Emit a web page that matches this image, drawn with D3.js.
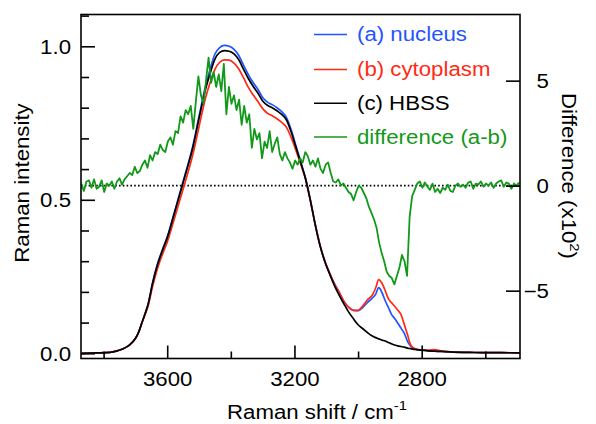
<!DOCTYPE html>
<html><head><meta charset="utf-8">
<script src="https://cdn.jsdelivr.net/npm/d3@7"></script>
<style>
body{margin:0;background:#fff}
svg{display:block}
text{font-family:"Liberation Sans",Arial,Helvetica,sans-serif}
</style>
</head><body>
<svg id="chart" width="596" height="424"></svg>
<script>
// ---------- data ----------
const shift = [3870,3820,3780,3760,3740,3720,3700,3690,3680,3670,3660,3645,3630,3615,3600,3580,3560,3540,3520,3500,
  3480,3465,3450,3435,3420,3405,3390,3375,3360,3345,3330,3315,3300,3285,3270,3255,3240,3225,3210,3195,
  3180,3165,3150,3135,3120,3105,3090,3075,3060,3045,3030,3015,3000,2985,2970,2955,2945,2935,2925,2915,
  2905,2895,2885,2875,2865,2855,2845,2835,2825,2815,2800,2780,2760,2740,2700,2650,2600,2550,2490];

const nucleus = [0.000,0.001,0.003,0.007,0.014,0.026,0.048,0.068,0.098,0.128,0.160,0.235,0.293,0.338,0.379,0.450,0.523,0.596,0.673,0.772,
  0.868,0.926,0.975,0.996,1.003,1.000,0.990,0.970,0.938,0.908,0.882,0.860,0.833,0.818,0.810,0.800,0.787,0.768,0.727,0.675,
  0.623,0.570,0.500,0.422,0.354,0.302,0.262,0.228,0.200,0.170,0.150,0.140,0.139,0.150,0.166,0.180,0.192,0.214,0.198,0.172,
  0.150,0.127,0.113,0.098,0.082,0.066,0.040,0.024,0.015,0.012,0.010,0.008,0.007,0.006,0.004,0.003,0.002,0.002,0.001];

const cytoplasm = [0.000,0.001,0.003,0.007,0.014,0.026,0.048,0.068,0.098,0.124,0.154,0.222,0.278,0.322,0.362,0.430,0.500,0.570,0.645,0.738,
  0.830,0.882,0.925,0.948,0.956,0.955,0.945,0.926,0.897,0.866,0.842,0.820,0.797,0.782,0.774,0.764,0.752,0.736,0.702,0.660,
  0.615,0.566,0.497,0.421,0.354,0.302,0.262,0.228,0.200,0.170,0.150,0.140,0.140,0.155,0.175,0.190,0.212,0.240,0.228,0.205,
  0.178,0.165,0.153,0.140,0.126,0.095,0.062,0.028,0.017,0.013,0.011,0.010,0.012,0.008,0.004,0.003,0.002,0.002,0.001];

const hbss = [0.000,0.001,0.003,0.007,0.014,0.026,0.048,0.068,0.098,0.128,0.160,0.232,0.290,0.335,0.376,0.447,0.520,0.592,0.668,0.765,
  0.858,0.912,0.958,0.980,0.986,0.984,0.975,0.956,0.925,0.895,0.870,0.848,0.822,0.808,0.800,0.790,0.778,0.760,0.720,0.670,
  0.620,0.568,0.498,0.420,0.352,0.300,0.260,0.222,0.190,0.162,0.135,0.113,0.093,0.080,0.067,0.056,0.051,0.047,0.043,0.040,
  0.035,0.031,0.027,0.024,0.022,0.020,0.017,0.015,0.013,0.012,0.010,0.008,0.007,0.006,0.004,0.003,0.002,0.002,0.001];

// difference (a-b) x10^2, sampled every 8 cm-1 from 3870 cm-1 down
const diffStart = 3870, diffStep = 8;
const difference = [
  0.10,-0.25,0.20,0.25,-0.10,0.30,-0.15,-0.05,0.25,-0.30,
  0.10,0.00,0.20,-0.15,0.20,0.35,0.05,0.30,0.45,0.60,
  0.50,0.90,0.60,0.70,1.00,1.20,0.85,1.45,1.20,1.60,
  1.50,1.95,1.70,1.60,2.10,2.30,1.95,2.60,2.50,3.30,
  3.00,3.60,3.40,3.80,2.70,4.00,5.20,4.30,3.90,5.00,
  6.10,4.90,5.40,4.70,5.30,4.50,5.80,3.40,4.70,3.90,
  4.30,3.60,4.10,2.90,3.80,3.00,3.40,1.80,2.70,2.20,
  2.50,1.30,2.10,1.80,2.60,1.60,2.00,2.30,1.50,1.20,
  1.60,1.30,1.10,0.80,1.20,1.00,1.30,1.10,1.60,1.40,
  1.00,1.20,0.90,1.30,0.80,0.60,1.00,1.10,0.60,0.20,
  0.15,0.30,0.00,0.10,-0.10,-0.30,-0.40,-0.70,-0.30,0.00,
  -0.10,-0.35,-0.60,-1.00,-1.30,-1.60,-2.00,-2.70,-3.20,-3.60,
  -4.10,-4.30,-4.40,-4.70,-4.30,-3.90,-3.30,-3.60,-4.30,-1.50,
  -0.50,-0.20,0.10,0.20,-0.10,0.15,-0.05,-0.20,0.10,-0.30,
  -0.15,-0.35,-0.10,-0.20,0.05,-0.25,-0.30,0.00,0.10,-0.05,
  0.05,-0.10,0.15,0.20,-0.15,0.10,0.05,0.20,-0.05,0.10,
  0.00,0.15,-0.10,0.10,0.20,0.25,-0.05,0.15,0.10,-0.15,
  0.10,0.00,0.15];

const xMajorTicks = [3600,3200,2800];
const xMinorTicks = [3800,3400,3000,2600];
const yMajorTicks = [0.0,0.5,1.0];
const yMinorTicks = [0.1,0.2,0.3,0.4,0.6,0.7,0.8,0.9,1.1];
const y2Ticks = [-5,0,5];
const legendLabels = ["(a) nucleus","(b) cytoplasm","(c) HBSS","difference (a-b)"];
const seriesColors = ["#1f55ff","#ff2a14","#000000","#13991a"];

// ---------- layout ----------
const L = 81, R = 520, T = 14.5, B = 358.5;
const FS = 19.5, STRETCH = 1.14;

const svg = d3.select("#chart");
const x = d3.scaleLinear().domain([3871, 2491]).range([L, R]);
const yL = d3.scaleLinear().domain([-0.017, 1.1036]).range([B, T]);
const yR = d3.scaleLinear().domain([-8.23, 8.15]).range([B, T]);

function stretch(sel){
  sel.each(function(){
    const len = this.getComputedTextLength();
    d3.select(this).attr("textLength", len*STRETCH).attr("lengthAdjust","spacingAndGlyphs");
  });
}

svg.append("clipPath").attr("id","clip").append("rect")
  .attr("x",L).attr("y",T).attr("width",R-L).attr("height",B-T);

// zero line of the difference axis
svg.append("line").attr("x1",L).attr("x2",R).attr("y1",yR(0)).attr("y2",yR(0))
  .attr("stroke","#000").attr("stroke-width",1.6).attr("stroke-dasharray","1.6,2.2");

const plot = svg.append("g").attr("clip-path","url(#clip)");
const spectra = [nucleus, cytoplasm, hbss];
const lineL = d3.line().x((d,i)=>x(shift[i])).y(d=>yL(d)).curve(d3.curveMonotoneX);
spectra.forEach((s,k)=>{
  plot.append("path").datum(s).attr("d",lineL).attr("fill","none")
    .attr("stroke",seriesColors[k]).attr("stroke-width",1.7).attr("stroke-linejoin","round");
});
const diffShift = d3.range(difference.length).map(i=>diffStart - i*diffStep);
const lineR = d3.line().x((d,i)=>x(diffShift[i])).y(d=>yR(d));
plot.append("path").datum(difference).attr("d",lineR).attr("fill","none")
  .attr("stroke",seriesColors[3]).attr("stroke-width",1.8).attr("stroke-linejoin","round");

// frame
svg.append("rect").attr("x",L).attr("y",T).attr("width",R-L).attr("height",B-T)
  .attr("fill","none").attr("stroke","#000").attr("stroke-width",1.6);

function styleAxis(g){
  g.select(".domain").remove();
  g.attr("font-size",FS).attr("font-family",null);
  g.selectAll("line").attr("stroke","#000").attr("stroke-width",1.6);
  g.selectAll("text").attr("fill","#000");
}

// left axis
const gL = svg.append("g").attr("transform",`translate(${L},0)`)
  .call(d3.axisLeft(yL).tickValues(yMajorTicks).tickSize(-14).tickSizeOuter(0).tickPadding(10).tickFormat(d3.format(".1f")));
styleAxis(gL); gL.selectAll("text").attr("dy","0.36em").call(stretch);
const gLm = svg.append("g").attr("transform",`translate(${L},0)`)
  .call(d3.axisLeft(yL).tickValues(yMinorTicks).tickSize(-8).tickSizeOuter(0).tickFormat(""));
styleAxis(gLm);

// bottom axis
const gB = svg.append("g").attr("transform",`translate(0,${B})`)
  .call(d3.axisBottom(x).tickValues(xMajorTicks).tickSize(-13).tickSizeOuter(0).tickFormat(d3.format("d")));
styleAxis(gB); gB.selectAll("text").attr("y",27.5).attr("dy",null).call(stretch);
const gBm = svg.append("g").attr("transform",`translate(0,${B})`)
  .call(d3.axisBottom(x).tickValues(xMinorTicks).tickSize(-7).tickSizeOuter(0).tickFormat(""));
styleAxis(gBm);

// right axis
const gR = svg.append("g").attr("transform",`translate(${R},0)`)
  .call(d3.axisRight(yR).tickValues(y2Ticks).tickSize(-14).tickSizeOuter(0).tickFormat(d3.format("d")));
styleAxis(gR); gR.selectAll("text").attr("x",29).attr("text-anchor","end").attr("dy","0.34em").call(stretch);

// axis titles
svg.append("text").attr("transform","translate(29,183) rotate(-90)")
  .attr("text-anchor","middle").attr("font-size",FS).text("Raman intensity").call(stretch);

const xt = svg.append("text").attr("x",227).attr("y",418.5).attr("font-size",FS);
xt.append("tspan").text("Raman shift / cm");
xt.append("tspan").attr("font-size",13).attr("dy",-9).text("-1");
xt.call(stretch);

const yt = svg.append("text").attr("transform","translate(562,176) rotate(90)")
  .attr("text-anchor","middle").attr("font-size",FS);
yt.append("tspan").text("Difference (x10");
yt.append("tspan").attr("font-size",13).attr("dy",-8).text("2");
yt.append("tspan").attr("dy",8).text(")");
yt.call(stretch);

// legend
const legendY = [34.5, 69.5, 103.3, 137];
legendLabels.forEach((lab,i)=>{
  svg.append("line").attr("x1",314).attr("x2",347).attr("y1",legendY[i]).attr("y2",legendY[i])
    .attr("stroke",seriesColors[i]).attr("stroke-width",1.6);
  svg.append("text").attr("x",357).attr("y",legendY[i]+6.5).attr("font-size",FS)
    .attr("fill",seriesColors[i]).text(lab).call(stretch);
});
</script>
</body></html>
